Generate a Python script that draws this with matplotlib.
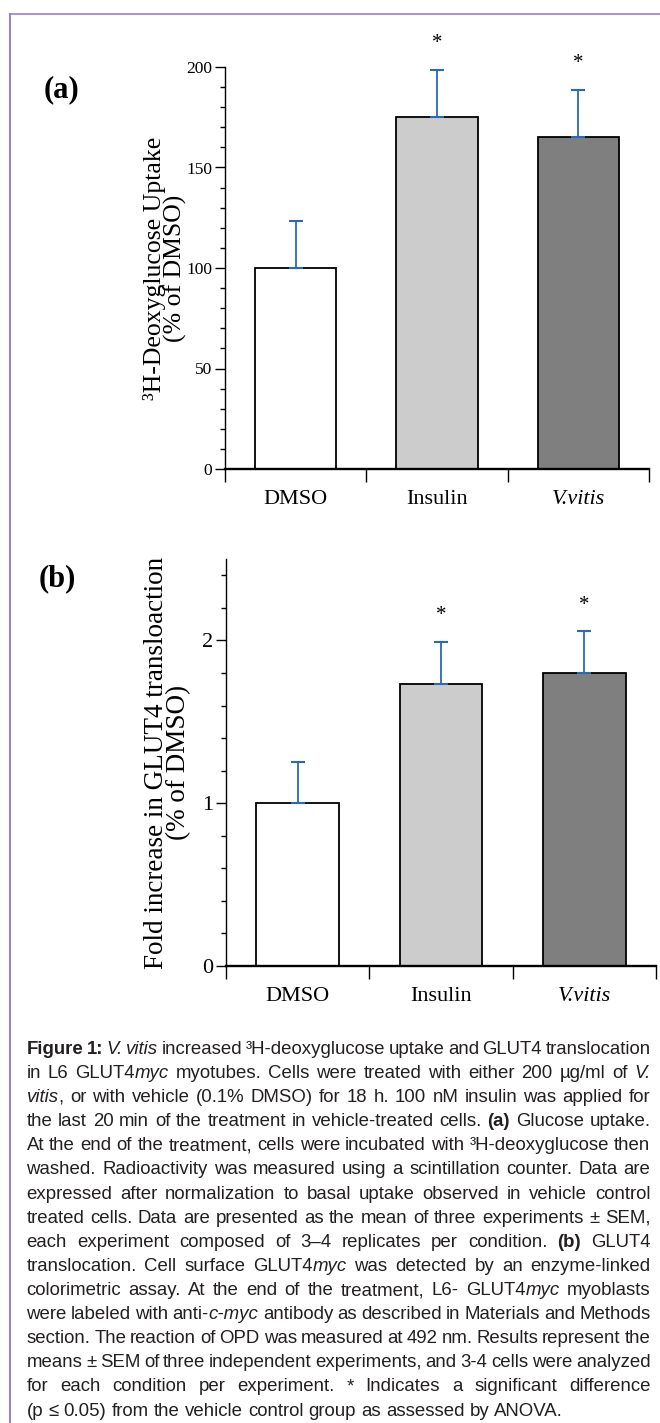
import numpy as np
import matplotlib
matplotlib.use('Agg')
import matplotlib.pyplot as plt
from matplotlib.lines import Line2D
from matplotlib.ticker import MultipleLocator, FixedLocator

# data
groups = ['DMSO', 'Insulin', 'V.vitis']
bar_colors = ['white', '#cccccc', '#7f7f7f']

uptake_mean = [100, 175, 165]
uptake_sem = [23.5, 23.5, 23.5]
uptake_sig = [False, True, True]

glut4_mean = [1.0, 1.73, 1.80]
glut4_sem = [0.255, 0.26, 0.255]
glut4_sig = [False, True, True]

# caption, one entry per printed line; #..# = bold, _.._ = italic
caption_lines = [
    "#Figure 1:# _V. vitis_ increased \u00b3H-deoxyglucose uptake and GLUT4 translocation",
    "in L6 GLUT4_myc_ myotubes. Cells were treated with either 200 \u00b5g/ml of _V._",
    "_vitis_, or with vehicle (0.1% DMSO) for 18 h. 100 nM insulin was applied for",
    "the last 20 min of the treatment in vehicle-treated cells. #(a)# Glucose uptake.",
    "At the end of the treatment, cells were incubated with \u00b3H-deoxyglucose then",
    "washed. Radioactivity was measured using a scintillation counter. Data are",
    "expressed after normalization to basal uptake observed in vehicle control",
    "treated cells. Data are presented as the mean of three experiments \u00b1 SEM,",
    "each experiment composed of 3\u20134 replicates per condition. #(b)# GLUT4",
    "translocation. Cell surface GLUT4_myc_ was detected by an enzyme-linked",
    "colorimetric assay. At the end of the treatment, L6- GLUT4_myc_ myoblasts",
    "were labeled with anti-_c-myc_ antibody as described in Materials and Methods",
    "section. The reaction of OPD was measured at 492 nm. Results represent the",
    "means \u00b1 SEM of three independent experiments, and 3-4 cells were analyzed",
    "for each condition per experiment. * Indicates a significant difference",
    "(p \u2264 0.05) from the vehicle control group as assessed by ANOVA.",
]

W, H = 660, 1423
plt.rcParams['font.family'] = 'Liberation Serif'
fig = plt.figure(figsize=(W / 100, H / 100), dpi=100)
fig.patch.set_facecolor('white')

err_color = '#2a6ab5'
x = np.arange(len(groups)) + 0.5


def draw_panel(rect, mean, sem, sig, ylim, ylabel, label_x, tick_size, label_size):
    ax = fig.add_axes(rect)
    ax.bar(x, mean, width=0.575, color=bar_colors, edgecolor='black', linewidth=1.3, zorder=2)
    ax.errorbar(x, mean, yerr=[np.zeros(len(sem)), sem], fmt='none', ecolor=err_color,
                elinewidth=1.3, capsize=4.7, capthick=1.5, zorder=3)
    for xi, m, s, flag in zip(x, mean, sem, sig):
        if flag:
            ax.annotate('*', xy=(xi, m + s), xytext=(0, 19), textcoords='offset points',
                        ha='center', va='center', fontsize=15, annotation_clip=False)
    ax.set_xlim(0, 3)
    ax.set_ylim(*ylim)
    for side in ['top', 'right']:
        ax.spines[side].set_visible(False)
    ax.spines['left'].set_linewidth(1.0)
    ax.spines['bottom'].set_linewidth(1.7)

    ax.set_xticks([0, 1, 2, 3])
    ax.set_xticklabels([])
    ax.set_xticks(x, minor=True)
    ax.set_xticklabels(groups, minor=True, fontsize=16)
    ax.get_xticklabels(minor=True)[2].set_style('italic')
    ax.tick_params(axis='x', which='major', direction='out', length=9, width=1)
    ax.tick_params(axis='x', which='minor', length=0, pad=15)

    ax.tick_params(axis='y', which='major', direction='out', length=7, width=1,
                   pad=2, labelsize=tick_size)
    ax.tick_params(axis='y', which='minor', direction='out', length=3.8, width=1)
    ax.set_ylabel(ylabel, fontsize=label_size, linespacing=0.88)
    ax.yaxis.set_label_coords(label_x, 0.5)
    return ax


ax1 = draw_panel([225 / W, 1 - 469 / H, 424 / W, 402 / H],
                 uptake_mean, uptake_sem, uptake_sig, (0, 200),
                 '\u00b3H-Deoxyglucose Uptake\n(% of DMSO)', -0.09, 12.5, 18.5)
ax1.yaxis.set_major_locator(MultipleLocator(50))
ax1.yaxis.set_minor_locator(MultipleLocator(10))

ax2 = draw_panel([226 / W, 1 - 966 / H, 430 / W, 407 / H],
                 glut4_mean, glut4_sem, glut4_sig, (0, 2.5),
                 'Fold increase in GLUT4 transloaction\n(% of DMSO)', -0.08, 16, 19.5)
ax2.yaxis.set_major_locator(FixedLocator([0, 1, 2]))
ax2.yaxis.set_minor_locator(MultipleLocator(0.2))

fig.text(62 / W, 1 - 90 / H, '(a)', fontsize=22, fontweight='bold', ha='center', va='center')
fig.text(57 / W, 1 - 579 / H, '(b)', fontsize=22, fontweight='bold', ha='center', va='center')

# purple frame (top and left edges visible)
frame_color = '#9a80cf'
fig.add_artist(Line2D([10.5 / W, 1], [1 - 14 / H] * 2, transform=fig.transFigure,
                      color=frame_color, lw=1.2))
fig.add_artist(Line2D([10.5 / W] * 2, [0, 1 - 14 / H], transform=fig.transFigure,
                      color=frame_color, lw=1.4))

# ---- justified caption ----
renderer = fig.canvas.get_renderer()
cap_font = 'Liberation Sans'
cap_color = '#231f20'


def parse_words(line):
    words, word, buf = [], [], ''
    bold = italic = False
    for ch in line:
        if ch in '#_ ':
            if buf:
                word.append((buf, bold, italic))
                buf = ''
            if ch == '#':
                bold = not bold
            elif ch == '_':
                italic = not italic
            elif word:
                words.append(word)
                word = []
        else:
            buf += ch
    if buf:
        word.append((buf, bold, italic))
    if word:
        words.append(word)
    return words


def text_kw(bold, italic, size):
    return dict(family=cap_font, fontsize=size, color=cap_color,
                fontweight='bold' if bold else 'normal',
                fontstyle='italic' if italic else 'normal')


def width_of(s, bold, italic, size):
    t = fig.text(0, 0, s, **text_kw(bold, italic, size))
    w = t.get_window_extent(renderer=renderer).width
    t.remove()
    return w


parsed = [parse_words(l) for l in caption_lines]

# size the caption so the unjustified last line has the reference width
ref_size = 10
last = parsed[-1]
nat = sum(width_of(p[0], p[1], p[2], ref_size) for wd in last for p in wd)
nat += (len(last) - 1) * (width_of('a a', False, False, ref_size) - width_of('aa', False, False, ref_size))
cap_size = ref_size * 539 / nat
space_w = width_of('a a', False, False, cap_size) - width_of('aa', False, False, cap_size)

left, right = 26.5, 650.5
base0, step = 1054, 24.1
for i, words in enumerate(parsed):
    widths = [[width_of(p[0], p[1], p[2], cap_size) for p in wd] for wd in words]
    total = sum(sum(w) for w in widths)
    if i < len(parsed) - 1 and len(words) > 1:
        gap = max((right - left - total) / (len(words) - 1), space_w * 0.6)
    else:
        gap = space_w
    xp = left
    yb = base0 + i * step
    for wd, wl in zip(words, widths):
        for (s, b, it), w in zip(wd, wl):
            fig.text(xp / W, 1 - yb / H, s, ha='left', va='baseline', **text_kw(b, it, cap_size))
            xp += w
        xp += gap

fig.savefig('out.png', dpi=100, facecolor='white')
